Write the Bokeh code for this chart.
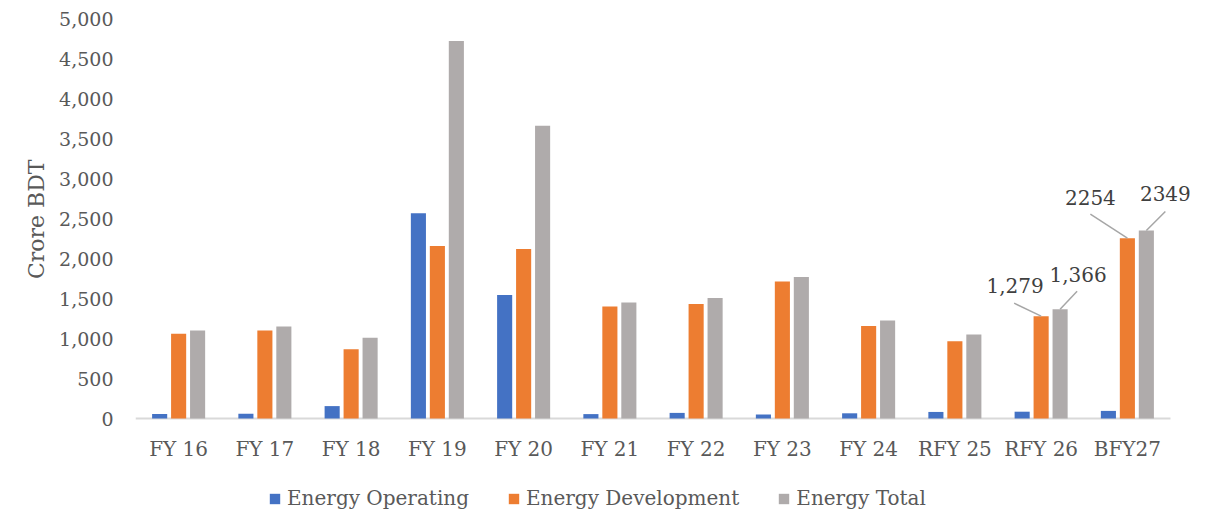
from bokeh.plotting import figure
from bokeh.models import (Range1d, FixedTicker, NumeralTickFormatter, Legend, LegendItem,
                          ColumnDataSource, Title)
from bokeh.core.properties import value
from bokeh.embed import file_html
from bokeh.resources import INLINE

# Energy sector allocation, Crore BDT
categories = ["FY 16", "FY 17", "FY 18", "FY 19", "FY 20", "FY 21", "FY 22",
              "FY 23", "FY 24", "RFY 25", "RFY 26", "BFY27"]
operating = [55, 60, 155, 2565, 1545, 55, 70, 50, 65, 82, 85, 95]
development = [1060, 1100, 865, 2155, 2120, 1400, 1430, 1712, 1155, 965, 1279, 2254]
total = [1100, 1150, 1010, 4720, 3660, 1450, 1505, 1770, 1225, 1050, 1366, 2349]
series_names = ["Energy Operating", "Energy Development", "Energy Total"]
y_ticks = [0, 500, 1000, 1500, 2000, 2500, 3000, 3500, 4000, 4500, 5000]

# callouts: (category index, series index, text)
callouts = [(10, 1, "1,279"), (10, 2, "1,366"), (11, 1, "2254"), (11, 2, "2349")]

COLORS = ["#4472C4", "#ED7D31", "#AFABAB"]
FONT = "DejaVu Serif"
W, H = 1209, 515
LEFT, TOP = 135, 18
AXIS_W = 1035            # width of the category axis in pixels
PLOT_H = 400             # height of the 0..5000 value span in pixels
FRAME_W = W - LEFT
FRAME_H = H - TOP
Y_MAX = 5000

n = len(categories)
px_x = n / AXIS_W
px_y = Y_MAX / PLOT_H
x_hi = n - 0.5 + (FRAME_W - AXIS_W) * px_x   # room on the right for callouts
y_lo = -(FRAME_H - PLOT_H) * px_y            # room below for labels and legend

p = figure(width=W, height=H, output_backend="svg", toolbar_location=None,
           x_range=Range1d(-0.5, x_hi), y_range=Range1d(y_lo, Y_MAX),
           min_border_left=LEFT, min_border_right=0,
           min_border_top=TOP, min_border_bottom=0)
p.outline_line_color = None
p.grid.visible = False
p.background_fill_color = "white"
p.border_fill_color = "white"

# baseline under the bars
p.segment(x0=[-0.5], y0=[0], x1=[n - 0.5], y1=[0], line_color="#D9D9D9", line_width=2)

offsets = [-0.22, 0.0, 0.22]
bar_w = 0.175
renderers = []
for vals, off, col in zip([operating, development, total], offsets, COLORS):
    src = ColumnDataSource(dict(x=[i + off for i in range(n)], top=vals))
    r = p.vbar(x="x", top="top", width=bar_w, bottom=0, source=src,
               fill_color=col, line_color=None)
    renderers.append(r)

# x axis, drawn at value 0
xa = p.xaxis[0]
xa.fixed_location = 0
xa.ticker = FixedTicker(ticks=list(range(n)))
xa.major_label_overrides = {i: c for i, c in enumerate(categories)}
xa.major_tick_line_color = None
xa.major_tick_out = 0
xa.minor_tick_line_color = None
xa.axis_line_color = None
xa.major_label_text_font = FONT
xa.major_label_text_font_size = "20px"
xa.major_label_text_color = "#595959"
xa.major_label_standoff = 18

# y axis
ya = p.yaxis[0]
ya.ticker = FixedTicker(ticks=y_ticks)
ya.formatter = NumeralTickFormatter(format="0,0")
ya.axis_line_color = None
ya.major_tick_line_color = None
ya.major_tick_out = 0
ya.minor_tick_line_color = None
ya.major_label_text_font = FONT
ya.major_label_text_font_size = "19px"
ya.major_label_text_color = "#595959"
ya.major_label_standoff = 22

# value-axis title, centred on the 0..5000 span
p.add_layout(Title(text="Crore BDT", align="right", offset=141, standoff=15,
                   text_font=FONT, text_font_size="22px", text_font_style="normal",
                   text_color="#595959"), "left")

# callout labels with leader lines; shifts in screen pixels from the bar top
shifts = {  # (line end dx, dy, label dx, dy)
    "1,279": (-27, 13, -26, 31),
    "1,366": (17, 18, 18, 35),
    "2254": (-37, 24, -37, 41),
    "2349": (19, 19, 19, 37),
}
lx0, ly0, lx1, ly1, tx, ty, tt = [], [], [], [], [], [], []
for ci, si, txt in callouts:
    vals = [operating, development, total][si]
    bx = ci + offsets[si]
    by = vals[ci]
    ldx, ldy, tdx, tdy = shifts[txt]
    lx0.append(bx)
    ly0.append(by)
    lx1.append(bx + ldx * px_x)
    ly1.append(by + ldy * px_y)
    tx.append(bx + tdx * px_x)
    ty.append(by + tdy * px_y)
    tt.append(txt)
p.segment(x0=lx0, y0=ly0, x1=lx1, y1=ly1, line_color="#A6A6A6", line_width=1.5)
p.text(x=tx, y=ty, text=tt, text_font=value(FONT), text_font_size="20px",
       text_color="#404040", text_align="center", text_baseline="middle")

legend = Legend(items=[LegendItem(label=nm, renderers=[r]) for nm, r in zip(series_names, renderers)],
                orientation="horizontal", location=(133, 5),
                glyph_width=13, glyph_height=13, label_standoff=6, spacing=38,
                padding=0, margin=0, border_line_color=None, background_fill_alpha=0,
                label_text_font=FONT, label_text_font_size="20px",
                label_text_color="#595959")
p.add_layout(legend, "center")

open("out.html", "w").write(file_html(p, INLINE))
